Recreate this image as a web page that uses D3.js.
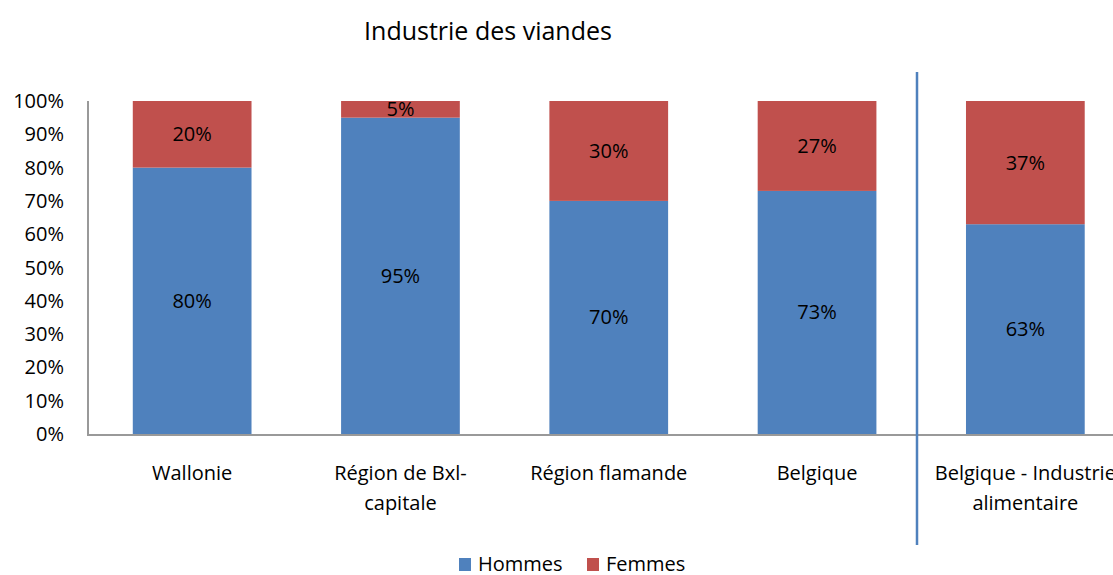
<!DOCTYPE html>
<html><head><meta charset="utf-8">
<script src="https://d3js.org/d3.v7.min.js"></script>
<style>body{margin:0;background:#fff;}svg{display:block;font-family:"Open Sans","Liberation Sans",sans-serif;}</style>
</head><body>
<svg id="c" width="1113" height="575"></svg>
<script>
const categories = ["Wallonie", "Région de Bxl-\ncapitale", "Région flamande", "Belgique", "Belgique - Industrie\nalimentaire"];
const hommes = [80, 95, 70, 73, 63];
const femmes = [20, 5, 30, 27, 37];
const yTicks = [0, 10, 20, 30, 40, 50, 60, 70, 80, 90, 100];
const seriesNames = ["Hommes", "Femmes"];
const colors = ["#4f81bd", "#c0504d"];
const title = "Industrie des viandes";

(function () {
const svg = d3.select("#c");
const pLeft = 88, pTop = 101, pBottom = 434, step = 208.3;
const fs = 20;
const x = d3.scaleBand().domain(d3.range(categories.length)).range([pLeft, pLeft + step * categories.length]).paddingInner(0.43).paddingOuter(0.215);
const y = d3.scaleLinear().domain([0, 100]).range([pBottom, pTop]);

svg.append("text").attr("x", 488).attr("y", 40).attr("text-anchor", "middle").attr("font-size", 25).attr("fill", "#000").text(title);

svg.append("g").selectAll("text").data(yTicks).join("text")
  .attr("x", 64).attr("y", d => y(d)).attr("dy", "0.35em").attr("text-anchor", "end")
  .attr("font-size", fs).attr("fill", "#000").text(d => d + "%");

const data = categories.map((c, i) => ({i, h: hommes[i], f: femmes[i]}));
const g = svg.append("g");
g.selectAll("rect.h").data(data).join("rect").attr("class", "h")
  .attr("x", d => x(d.i)).attr("width", x.bandwidth())
  .attr("y", d => y(d.h)).attr("height", d => y(0) - y(d.h)).attr("fill", colors[0]);
g.selectAll("rect.f").data(data).join("rect").attr("class", "f")
  .attr("x", d => x(d.i)).attr("width", x.bandwidth())
  .attr("y", d => y(d.h + d.f)).attr("height", d => y(d.h) - y(d.h + d.f)).attr("fill", colors[1]);

g.selectAll("text.lh").data(data).join("text").attr("class", "lh")
  .attr("x", d => x(d.i) + x.bandwidth() / 2).attr("y", d => y(d.h / 2)).attr("dy", "0.35em")
  .attr("text-anchor", "middle").attr("font-size", fs).attr("fill", "#000").text(d => d.h + "%");
g.selectAll("text.lf").data(data).join("text").attr("class", "lf")
  .attr("x", d => x(d.i) + x.bandwidth() / 2).attr("y", d => y(d.h + d.f / 2)).attr("dy", "0.35em")
  .attr("text-anchor", "middle").attr("font-size", fs).attr("fill", "#000").text(d => d.f + "%");

svg.append("line").attr("x1", pLeft).attr("x2", pLeft).attr("y1", pTop).attr("y2", pBottom + 1).attr("stroke", "#999").attr("stroke-width", 2);
svg.append("line").attr("x1", pLeft - 1).attr("x2", 1113).attr("y1", pBottom + 1).attr("y2", pBottom + 1).attr("stroke", "#999").attr("stroke-width", 2);

const cl = svg.append("g").selectAll("text").data(categories).join("text")
  .attr("x", (d, i) => x(i) + x.bandwidth() / 2).attr("y", 480)
  .attr("text-anchor", "middle").attr("font-size", fs).attr("fill", "#000");
cl.each(function(d) {
  const lines = d.split("\n");
  const cx = d3.select(this).attr("x");
  d3.select(this).selectAll("tspan").data(lines).join("tspan")
    .attr("x", cx).attr("dy", (l, k) => k === 0 ? 0 : 30).text(l => l);
});

svg.append("line").attr("x1", 917).attr("x2", 917).attr("y1", 72).attr("y2", 545).attr("stroke", "#4f81bd").attr("stroke-width", 2.5);

const leg = svg.append("g");
const legX = [459, 587];
seriesNames.forEach((n, k) => {
  leg.append("rect").attr("x", legX[k]).attr("y", 558).attr("width", 12).attr("height", 13).attr("fill", colors[k]);
  leg.append("text").attr("x", legX[k] + 19).attr("y", 571).attr("font-size", fs).attr("fill", "#000").text(n);
});
})();
</script>
</body></html>
